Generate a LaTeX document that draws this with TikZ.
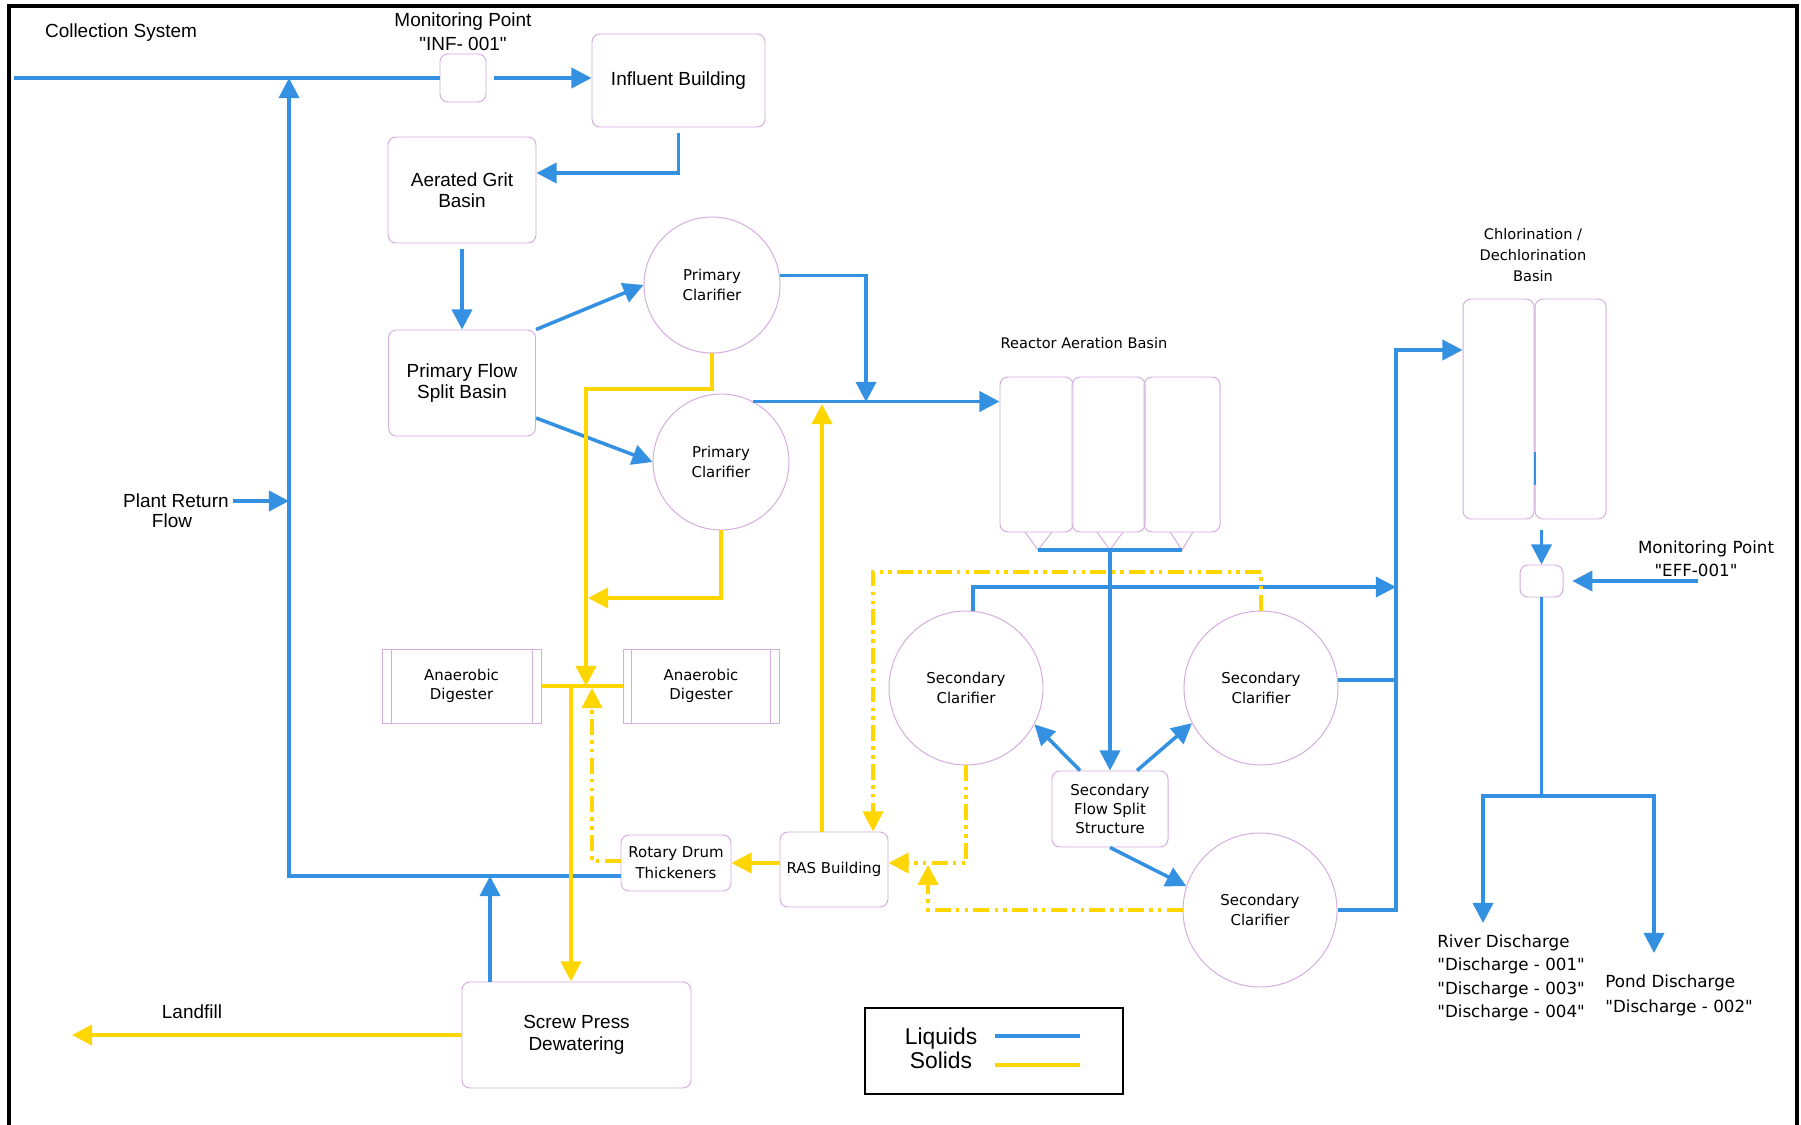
\documentclass[tikz,border=0pt]{standalone}
\usepackage{fontspec}
\usetikzlibrary{arrows.meta,calc}
\newfontfamily\arialf{Liberation Sans}
\newfontfamily\verdf{DejaVu Sans}
\definecolor{liqc}{RGB}{52,145,226}
\definecolor{solc}{RGB}{255,214,0}
\definecolor{boxc}{RGB}{212,172,222}
\newcommand\PX{0.02cm}
\begin{document}
\begin{tikzpicture}[x=0.02cm, y=-0.02cm,
  bx/.style={draw=boxc, line width=0.55pt, rounded corners=0.16cm, inner sep=0pt, align=center},
  sq/.style={draw=boxc, line width=0.55pt, inner sep=0pt, align=center},
  circ/.style={circle, draw=boxc, line width=0.55pt, inner sep=0pt, align=center},
  ar/.style={font=\arialf\fontsize{10.8}{12}\selectfont},
  vd/.style={font=\verdf\fontsize{8.5}{11}\selectfont},
  liq/.style={draw=liqc, line width=2pt},
  sol/.style={draw=solc, line width=2pt},
  dd/.style={sol, dash pattern=on 9pt off 3pt on 2pt off 3pt on 2pt off 3pt},
  arr/.style={-{Triangle[length=11.5pt,width=11.5pt]}},
  bord/.style={draw=black, line width=1.8pt}
]
\useasboundingbox (0,0) rectangle (1801,1125);
\fill[white] (0,0) rectangle (1801,1125);
\draw[bord] (9,1125) -- (9,6) -- (1797,6) -- (1797,1125);

% ---------- text labels ----------
\node[ar] (cs) at (121,33) {Collection System};
\node[ar, align=center, font=\arialf\fontsize{10.8}{13.7}\selectfont] (infl) at (463,32) {Monitoring Point\\"INF- 001"};
\node[ar, anchor=east, inner sep=0pt] (prf) at (229,501) {Plant Return};
\node[ar, inner sep=0pt] (prf2) at (172,521) {Flow};
\node[ar] (lf) at (192,1012) {Landfill};
\node[vd, font=\verdf\fontsize{8.3}{11}\selectfont] (ralbl) at (1084,343) {Reactor Aeration Basin};
\node[align=center, font=\verdf\fontsize{8.3}{11.8}\selectfont] (chl) at (1533,255) {Chlorination /\\Dechlorination\\Basin};
\node[align=center, font=\verdf\fontsize{9.5}{13}\selectfont] (effl) at (1706,559) {Monitoring Point\\"EFF-001"\hspace*{0.4cm}};
\node[align=left, anchor=west, inner sep=0pt, font=\verdf\fontsize{9.5}{13.3}\selectfont] (riv) at (1437,978) {River Discharge\\"Discharge - 001"\\"Discharge - 003"\\"Discharge - 004"};
\node[align=left, anchor=west, inner sep=0pt, font=\verdf\fontsize{9.5}{14.2}\selectfont] (pond) at (1605,995.5) {Pond Discharge\\"Discharge - 002"};

% ---------- process units ----------
\node[bx, minimum width=46*\PX, minimum height=48*\PX] (inf) at (463,78) {};
\node[bx, ar, minimum width=173*\PX, minimum height=93*\PX] (infb) at (678.5,80.5) {Influent Building};
\node[bx, ar, minimum width=148*\PX, minimum height=106*\PX] (grit) at (462,190) {Aerated Grit\\Basin};
\node[bx, ar, minimum width=147*\PX, minimum height=106*\PX] (pfsb) at (462,383) {Primary Flow\\Split Basin};
\node[circ, vd, minimum size=136*\PX] (pc1) at (712,285) {Primary\\Clarifier};
\node[circ, vd, minimum size=136*\PX] (pc2) at (721,462) {Primary\\Clarifier};

\node[bx, minimum width=73*\PX, minimum height=155*\PX] (r1) at (1036.5,454.5) {};
\node[bx, minimum width=73*\PX, minimum height=155*\PX] (r2) at (1108.5,454.5) {};
\node[bx, minimum width=76*\PX, minimum height=155*\PX] (r3) at (1182,454.5) {};
\draw[draw=boxc, line width=0.55pt] (1025,532) -- (1038,550) -- (1052,532);
\draw[draw=boxc, line width=0.55pt] (1097,532) -- (1110,550) -- (1123,532);
\draw[draw=boxc, line width=0.55pt] (1170,532) -- (1182,550) -- (1193,532);

\node[circ, vd, minimum size=154*\PX] (sc1) at (966,688) {Secondary\\Clarifier};
\node[circ, vd, minimum size=154*\PX] (sc2) at (1261,688) {Secondary\\Clarifier};
\node[circ, vd, minimum size=154*\PX] (sc3) at (1260,910) {Secondary\\Clarifier};
\node[bx, vd, minimum width=116*\PX, minimum height=76*\PX] (sfs) at (1110,809) {Secondary\\Flow Split\\Structure};
\node[bx, vd, minimum width=108*\PX, minimum height=75*\PX] (ras) at (834,869.5) {RAS Building};
\node[bx, vd, minimum width=110*\PX, minimum height=56*\PX, font=\verdf\fontsize{8.5}{11.8}\selectfont] (rdt) at (676,863) {Rotary Drum\\Thickeners};

\node[sq, vd, minimum width=159*\PX, minimum height=74*\PX] (ad1) at (461.5,686) {Anaerobic\\Digester};
\node[sq, vd, minimum width=156*\PX, minimum height=74*\PX] (ad2) at (701,686) {Anaerobic\\Digester};
\draw[draw=boxc, line width=0.55pt] ([xshift=0.2cm]ad1.north west) -- ([xshift=0.2cm]ad1.south west);
\draw[draw=boxc, line width=0.55pt] ([xshift=-0.18cm]ad1.north east) -- ([xshift=-0.18cm]ad1.south east);
\draw[draw=boxc, line width=0.55pt] ([xshift=0.18cm]ad2.north west) -- ([xshift=0.18cm]ad2.south west);
\draw[draw=boxc, line width=0.55pt] ([xshift=-0.18cm]ad2.north east) -- ([xshift=-0.18cm]ad2.south east);

\node[bx, ar, minimum width=229*\PX, minimum height=106*\PX, font=\arialf\fontsize{10.8}{12.4}\selectfont] (scr) at (576.5,1035) {Screw Press\\Dewatering};

\node[bx, minimum width=71*\PX, minimum height=220*\PX] (c1) at (1498.5,409) {};
\node[bx, minimum width=71*\PX, minimum height=220*\PX] (c2) at (1570.5,409) {};
\draw[liqc, line width=1pt] (1535,452) -- (1535,485);
\node[bx, minimum width=43*\PX, minimum height=32*\PX] (eff) at (1541.5,581) {};

% legend
\node[draw=black, line width=1.2pt, minimum width=258*\PX, minimum height=86*\PX] (leg) at (994,1051) {};
\node[align=center, font=\arialf\fontsize{13}{13.7}\selectfont] (legt) at (941,1048) {Liquids\\Solids};
\draw[liq] (995,1036) -- (1080,1036);
\draw[sol] (995,1065) -- (1080,1065);

% ---------- coordinates ----------
\coordinate (cs0) at (14,78);
\coordinate (rettop) at (289,78);
\coordinate (retbot) at (289,876);
\coordinate (sp0) at (490,982);
\coordinate (lfend) at (72,1035);
\coordinate (mj) at (866,402);
\coordinate (rcol) at (1110,550);
\coordinate (sj) at (1396,587);
\coordinate (seT) at (1396,350);
\coordinate (effin) at (1698,581);
\coordinate (brj) at (1541.5,796);
\coordinate (brL) at (1483,923);
\coordinate (brR) at (1654,953);
\coordinate (ps1) at (586,389);
\coordinate (ps2) at (588,598);
\coordinate (jn) at (586,686);
\coordinate (jn2) at (592,688);
\coordinate (sx) at (571,686);
\coordinate (rasup) at (822,404);
\coordinate (dd1) at (873,572);
\coordinate (dd2) at (966,863);
\coordinate (dd3) at (928,910);

% ---------- liquids ----------
\draw[liq] (cs0) -- (inf.west);
\draw[liq, arr, shorten <=4pt] (inf.east) -- (inf.east -| infb.west);
\draw[liq, arr, shorten <=3pt] (infb.south) |- ([yshift=0.34cm]grit.east);
\draw[liq, arr, shorten <=3pt] (grit.south) -- (pfsb.north);
\draw[liq, arr] (pfsb.north east) -- (pc1.west);
\draw[liq, arr] ([yshift=-0.7cm]pfsb.east) -- (pc2.west);
\draw[liq, arr] (pc1.8) -| (mj);
\draw[liq, arr] (pc2.62) -- (pc2.62 -| r1.west);
\draw[liq] (1038,550) -- (1182,550);
\draw[liq, arr] (rcol) -- (sfs.north);
\draw[liq, arr] ([xshift=-0.6cm]sfs.north) -- (sc1.-28);
\draw[liq, arr] ([xshift=0.54cm]sfs.north) -- (sc2.207);
\draw[liq, arr] (sfs.south) -- (sc3.162);
\draw[liq, arr] (sc1.85) |- (sj);
\draw[liq] (sc2.6) -- (sc2.6 -| seT);
\draw[liq, arr] (sc3.east) -| (seT) -- (seT -| c1.west);
\draw[liq, arr, shorten <=6pt] (c1.south east -| eff.north) -- (eff.north);
\draw[liq, arr, shorten >=5pt] (effin) -- (eff.east);
\draw[liq] (eff.south) -- (brj);
\draw[liq, arr] (brj) -| (brL);
\draw[liq, arr] (brj) -| (brR);
\draw[liq, arr] ([yshift=-0.26cm]rdt.west) -| (rettop);
\draw[liq, arr, shorten <=2pt] (prf.east) -- (prf.east -| rettop);
\draw[liq, arr] (sp0) -- (sp0 |- retbot);

% ---------- solids ----------
\draw[sol, arr] (pc1.south) |- (ps1) -- (jn);
\draw[sol, arr] (pc2.south) |- (ps2);
\draw[sol] (ad1.east) -- (ad2.west);
\draw[sol, arr] (sx) -- (sx |- scr.north);
\draw[sol, arr] (ras.north -| rasup) -- (rasup);
\draw[sol, arr] (ras.west |- rdt.east) -- (rdt.east);
\draw[sol, arr] (scr.west) -- (scr.west -| lfend);
\draw[dd, arr] ([yshift=0.04cm]rdt.west) -| (jn2);
\draw[dd, arr] (sc2.north) |- (dd1) -- (dd1 |- ras.north);
\draw[dd, arr] (sc1.south) -- (dd2) -- (dd2 -| ras.east);
\draw[dd, arr, shorten >=1pt] (sc3.west) -- (dd3) -- (dd3 |- dd2);
\end{tikzpicture}
\end{document}
